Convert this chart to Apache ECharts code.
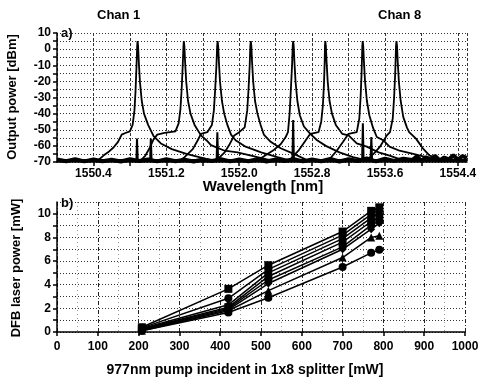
<!DOCTYPE html>
<html><head><meta charset="utf-8">
<script src="https://cdn.jsdelivr.net/npm/echarts@6/dist/echarts.min.js"></script>
<style>html,body{margin:0;padding:0;background:#fff}#c{width:482px;height:382px}</style>
</head><body><div id="c"></div>
<script>
// ---------- DATA ----------
// Panel a) : spectra, [wavelength nm, output power dBm]
const spec1 = [[1550.0,-69],[1550.45,-69],[1550.51,-66],[1550.56,-64],[1550.62,-61],[1550.67,-57.5],[1550.71,-53],[1550.75,-52],[1550.80,-51],[1550.83,-47],[1550.85,-38],[1550.862,-26],[1550.873,-10],[1550.880,2],[1550.884,5],[1550.890,2],[1550.898,-8],[1550.91,-20],[1550.93,-32],[1550.955,-40],[1551.0,-47],[1551.06,-54],[1551.14,-58.5],[1551.26,-62],[1551.42,-65],[1551.56,-67],[1551.7,-69],[1554.5,-69]];
const spec2 = [[1550.0,-69],[1550.92,-69],[1550.97,-66],[1551.02,-61],[1551.06,-56],[1551.1,-53],[1551.18,-52],[1551.3,-51],[1551.335,-46],[1551.355,-37],[1551.368,-25],[1551.38,-10],[1551.388,2],[1551.392,5],[1551.398,2],[1551.406,-8],[1551.418,-20],[1551.438,-32],[1551.465,-40],[1551.51,-47],[1551.58,-53.5],[1551.64,-56.5],[1551.69,-59.5],[1551.84,-63],[1551.98,-64],[1552.2,-67],[1552.35,-69],[1554.5,-69]];
const spec3 = [[1550.0,-69],[1551.35,-69],[1551.40,-67],[1551.49,-62],[1551.545,-56.5],[1551.58,-52.5],[1551.65,-51.5],[1551.70,-47],[1551.722,-38],[1551.736,-25],[1551.75,-10],[1551.758,2],[1551.763,5],[1551.769,2],[1551.777,-8],[1551.789,-20],[1551.81,-32],[1551.835,-40],[1551.87,-47],[1551.91,-53],[1551.96,-56.5],[1552.07,-60.5],[1552.24,-64],[1552.42,-67],[1552.55,-69],[1554.5,-69]];
const spec4 = [[1550.0,-69],[1551.75,-69],[1551.84,-64],[1551.89,-59.5],[1551.945,-53.5],[1552.0,-51.5],[1552.06,-48.5],[1552.088,-38],[1552.102,-25],[1552.115,-10],[1552.122,2],[1552.127,5],[1552.133,2],[1552.141,-8],[1552.153,-20],[1552.173,-32],[1552.2,-40],[1552.235,-47],[1552.27,-53],[1552.345,-57.5],[1552.455,-61.5],[1552.6,-65],[1552.75,-69],[1554.5,-69]];
const spec5 = [[1550.0,-69],[1552.2,-69],[1552.31,-65],[1552.38,-62.5],[1552.455,-59],[1552.51,-54.5],[1552.535,-51.5],[1552.553,-40],[1552.566,-26],[1552.58,-10],[1552.587,2],[1552.592,5],[1552.598,2],[1552.606,-8],[1552.618,-20],[1552.638,-32],[1552.665,-41],[1552.71,-48],[1552.78,-52.5],[1552.855,-56.5],[1552.95,-60],[1553.1,-64],[1553.25,-67],[1553.4,-69],[1554.5,-69]];
const spec6 = [[1550.0,-69],[1552.55,-69],[1552.65,-63],[1552.73,-56.5],[1552.78,-52.5],[1552.87,-51.5],[1552.9,-45],[1552.918,-35],[1552.93,-22],[1552.938,-8],[1552.941,2],[1552.945,5],[1552.951,2],[1552.959,-8],[1552.971,-20],[1552.991,-32],[1553.018,-40],[1553.06,-47],[1553.13,-52.5],[1553.2,-53.5],[1553.29,-58.5],[1553.40,-60.5],[1553.53,-64],[1553.65,-66],[1553.8,-69],[1554.5,-69]];
const spec7 = [[1550.0,-69],[1552.98,-69],[1553.07,-63],[1553.14,-57.5],[1553.2,-52.5],[1553.29,-51.5],[1553.318,-43],[1553.332,-30],[1553.343,-15],[1553.351,2],[1553.355,5],[1553.361,2],[1553.369,-8],[1553.381,-20],[1553.401,-32],[1553.428,-41],[1553.47,-49],[1553.51,-54.5],[1553.58,-56.5],[1553.65,-60.5],[1553.76,-63],[1553.91,-65],[1554.05,-67],[1554.2,-69],[1554.5,-69]];
const spec8 = [[1550.0,-69],[1553.4,-69],[1553.49,-64],[1553.545,-60.5],[1553.62,-53.5],[1553.655,-51.5],[1553.685,-43],[1553.70,-30],[1553.712,-15],[1553.721,2],[1553.726,5],[1553.732,2],[1553.74,-8],[1553.752,-20],[1553.772,-32],[1553.80,-42],[1553.84,-48.5],[1553.865,-51.5],[1553.94,-55.5],[1554.015,-61.5],[1554.09,-66],[1554.2,-68],[1554.5,-69]];
const spikes = [[1550.0,-69],[1550.872,-69],[1550.878,-55.5],[1550.886,-69],[1551.022,-69],[1551.03,-55.5],[1551.038,-69],[1551.752,-69],[1551.76,-51.5],[1551.768,-69],[1552.584,-69],[1552.592,-44],[1552.60,-69],[1553.349,-69],[1553.357,-46],[1553.365,-69],[1553.442,-69],[1553.45,-54.5],[1553.458,-69],[1554.5,-69]];
const noiseFloor = [[1550.0,-68.5],[1550.1,-69.5],[1550.2,-68.2],[1550.3,-69.6],[1550.4,-68.4],[1550.5,-69.5],[1550.6,-68.6],[1550.7,-69.7],[1550.8,-68.3],[1550.9,-69.4],[1551.0,-68.5],[1551.1,-69.6],[1551.2,-68.2],[1551.3,-69.5],[1551.4,-68.6],[1551.5,-69.7],[1551.6,-68.4],[1551.7,-69.4],[1551.8,-68.2],[1551.9,-69.6],[1552.0,-68.5],[1552.1,-69.5],[1552.2,-68.3],[1552.3,-69.7],[1552.4,-68.5],[1552.5,-69.4],[1552.6,-68.2],[1552.7,-69.6],[1552.8,-68.4],[1552.9,-69.5],[1553.0,-68.1],[1553.1,-69.7],[1553.2,-68.3],[1553.3,-69.4],[1553.4,-67.8],[1553.5,-69.6],[1553.6,-68.0],[1553.7,-69.3],[1553.8,-67.9],[1553.9,-68.8],[1553.95,-66.5],[1554.0,-69.2],[1554.05,-67.0],[1554.1,-68.6],[1554.15,-66.2],[1554.2,-69.0],[1554.25,-67.2],[1554.3,-68.4],[1554.35,-65.8],[1554.4,-68.6],[1554.45,-66.3],[1554.5,-67.6]];
const wlTickLabels = [1550.4, 1551.2, 1552.0, 1552.8, 1553.6, 1554.4];
const dbmTickLabels = [10, 0, -10, -20, -30, -40, -50, -60, -70];

// Panel b) : DFB laser power vs pump
const pumpPower = [208, 420, 518, 700, 770, 790];
const laser1 = [0.40, 3.65, 5.65, 8.50, 10.25, 10.55];
const laser2 = [0.35, 2.85, 5.30, 8.20, 9.95, 10.30];
const laser3 = [0.30, 2.30, 5.00, 7.90, 9.65, 10.00];
const laser4 = [0.25, 2.10, 4.70, 7.60, 9.35, 9.70];
const laser5 = [0.20, 2.00, 4.40, 7.20, 9.05, 9.40];
const laser6 = [0.15, 1.90, 4.10, 7.00, 8.70, 9.20];
const laser7 = [0.10, 1.80, 3.50, 6.30, 8.00, 8.15];
const laser8 = [0.10, 1.65, 2.90, 5.50, 6.70, 6.95];
const pumpTickLabels = [0, 100, 200, 300, 400, 500, 600, 700, 800, 900, 1000];
const powerTickLabels = [0, 2, 4, 6, 8, 10];

// ---------- CHART ----------
const FONT = '"Liberation Sans", Arial, sans-serif';
const chart = echarts.init(document.getElementById('c'), null, {renderer: 'canvas'});
const spectra = [spec1, spec2, spec3, spec4, spec5, spec6, spec7, spec8];
const lasers = [laser1, laser2, laser3, laser4, laser5, laser6, laser7, laser8];
const symbols = ['rect', 'circle', 'diamond', 'rect', 'circle', 'diamond', 'triangle', 'circle'];

const series = [];
series.push({type: 'line', data: noiseFloor, xAxisIndex: 0, yAxisIndex: 0, showSymbol: false,
  lineStyle: {color: '#000', width: 4}, silent: true});
spectra.forEach(s => series.push({type: 'line', data: s, xAxisIndex: 0, yAxisIndex: 0, showSymbol: false,
  lineStyle: {color: '#000', width: 1.8}, silent: true}));
series.push({type: 'line', data: spikes, xAxisIndex: 0, yAxisIndex: 0, showSymbol: false,
  lineStyle: {color: '#000', width: 2}, silent: true});
lasers.forEach((l, i) => series.push({type: 'line', data: pumpPower.map((p, j) => [p, l[j]]),
  xAxisIndex: 1, yAxisIndex: 1, symbol: symbols[i], symbolSize: 8, showSymbol: true,
  itemStyle: {color: '#000'}, lineStyle: {color: '#000', width: 1.5}, silent: true}));

const axisLbl = {color: '#000', fontFamily: FONT, fontWeight: 'bold', fontSize: 12};
const gridDot = {show: true, lineStyle: {color: '#333', type: [1, 2], width: 1}};
const near = (arr, v) => arr.some(a => Math.abs(a - v) < 1e-6);

chart.setOption({
  animation: false,
  backgroundColor: '#fff',
  grid: [
    {left: 57, top: 33, width: 410, height: 129},
    {left: 57, top: 202, width: 408, height: 130}
  ],
  xAxis: [
    {type: 'value', gridIndex: 0, min: 1550.0, max: 1554.5, interval: 0.4,
      axisLine: {show: true, onZero: false, lineStyle: {color: '#000', width: 1.5}},
      axisTick: {show: true, length: 4, lineStyle: {color: '#000', width: 1.5}},
      axisLabel: Object.assign({}, axisLbl, {margin: 6, showMaxLabel: false, showMinLabel: false,
        formatter: v => near(wlTickLabels, v) ? v.toFixed(1) : ''}),
      splitLine: {show: true, lineStyle: {color: '#333', type: [3, 2], width: 1}}},
    {type: 'value', gridIndex: 1, min: 0, max: 1000, interval: 100,
      axisLine: {show: true, onZero: false, lineStyle: {color: '#000', width: 1.5}},
      axisTick: {show: true, length: 4, lineStyle: {color: '#000', width: 1.5}},
      minorTick: {show: false, splitNumber: 2},
      axisLabel: Object.assign({}, axisLbl, {margin: 9,
        formatter: v => near(pumpTickLabels, v) ? String(v) : ''}),
      splitLine: {show: true, lineStyle: {color: '#222', type: [4, 2, 1, 2], width: 1}},
      minorSplitLine: {show: true, lineStyle: {color: '#999', type: [1, 3], width: 1}}}
  ],
  yAxis: [
    {type: 'value', gridIndex: 0, min: -70, max: 10, interval: 5,
      axisLine: {show: true, onZero: false, lineStyle: {color: '#000', width: 1.5}},
      axisTick: {show: true, length: 4, lineStyle: {color: '#000', width: 1.5}},
      axisLabel: Object.assign({}, axisLbl, {margin: 6,
        formatter: v => near(dbmTickLabels, v) ? String(v) : ''}),
      splitLine: gridDot},
    {type: 'value', gridIndex: 1, min: 0, max: 11, interval: 1,
      axisLine: {show: true, onZero: false, lineStyle: {color: '#000', width: 1.5}},
      axisTick: {show: true, length: 4, lineStyle: {color: '#000', width: 1.5}},
      axisLabel: Object.assign({}, axisLbl, {margin: 6, showMaxLabel: false,
        formatter: v => near(powerTickLabels, v) ? String(v) : ''}),
      splitLine: gridDot}
  ],
  graphic: [
    {type: 'text', left: 97, top: 9, style: {text: 'Chan 1', font: 'bold 13px ' + FONT, fill: '#000'}},
    {type: 'text', left: 378, top: 9, style: {text: 'Chan 8', font: 'bold 13px ' + FONT, fill: '#000'}},
    {type: 'text', left: 61, top: 27, style: {text: 'a)', font: 'bold 13px ' + FONT, fill: '#000'}},
    {type: 'text', left: 61, top: 197, style: {text: 'b)', font: 'bold 13px ' + FONT, fill: '#000'}},
    {type: 'text', x: 12, y: 97, rotation: Math.PI / 2,
      style: {text: 'Output power [dBm]', font: 'bold 13px ' + FONT, fill: '#000', align: 'center', verticalAlign: 'middle'}},
    {type: 'text', x: 263, y: 187,
      style: {text: 'Wavelength [nm]', font: 'bold 15px ' + FONT, fill: '#000', align: 'center', verticalAlign: 'middle'}},
    {type: 'text', x: 16, y: 268, rotation: Math.PI / 2,
      style: {text: 'DFB laser power [mW]', font: 'bold 13px ' + FONT, fill: '#000', align: 'center', verticalAlign: 'middle'}},
    {type: 'text', x: 245, y: 370,
      style: {text: '977nm pump incident in 1x8 splitter [mW]', font: 'bold 14px ' + FONT, fill: '#000', align: 'center', verticalAlign: 'middle'}}
  ],
  series: series
});
</script></body></html>
